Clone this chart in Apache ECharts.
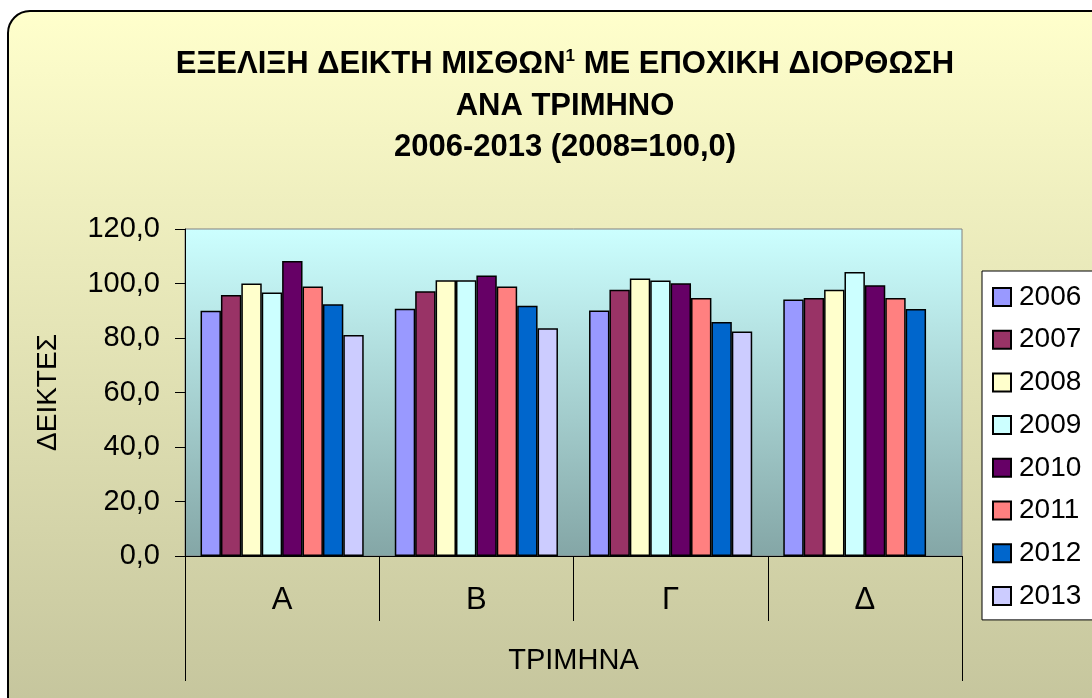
<!DOCTYPE html>
<html>
<head>
<meta charset="utf-8">
<script src="https://cdn.jsdelivr.net/npm/echarts@6/dist/echarts.min.js"></script>
<style>html,body{margin:0;padding:0;background:#fff;}#c{width:1092px;height:698px;}</style>
</head>
<body>
<div id="c"></div>
<script>
var quarters = ['Α', 'Β', 'Γ', 'Δ'];
var years = ['2006', '2007', '2008', '2009', '2010', '2011', '2012', '2013'];
var v2006 = [90.0, 90.7, 90.1, 94.1];
var v2007 = [95.8, 97.2, 97.7, 94.7];
var v2008 = [100.0, 101.2, 101.8, 97.7];
var v2009 = [96.7, 101.2, 101.1, 104.2];
var v2010 = [108.3, 102.9, 100.1, 99.4];
var v2011 = [98.9, 98.9, 94.7, 94.7];
var v2012 = [92.4, 91.8, 85.9, 90.6];
var v2013 = [81.1, 83.6, 82.4, null];
var yearValues = [v2006, v2007, v2008, v2009, v2010, v2011, v2012, v2013];
var colors = ['#9999FF', '#993366', '#FFFFCC', '#CCFFFF', '#660066', '#FF8080', '#0066CC', '#CCCCFF'];

var FONT = "'Liberation Sans', Arial, sans-serif";
var chart = echarts.init(document.getElementById('c'), null, {renderer: 'canvas'});

var series = years.map(function (y, i) {
  return {
    name: y,
    type: 'bar',
    data: yearValues[i],
    barGap: '0%',
    barCategoryGap: '16%',
    itemStyle: {color: colors[i], borderColor: '#000', borderWidth: 1.5}
  };
});

chart.setOption({
  backgroundColor: '#ffffff',
  animation: false,
  color: colors,
  graphic: [{
    type: 'rect',
    z: -10,
    silent: true,
    shape: {x: 8, y: 11, width: 1110, height: 710, r: 22},
    style: {
      fill: {type: 'linear', x: 0, y: 0, x2: 0, y2: 1, colorStops: [
        {offset: 0, color: '#FFFFCC'}, {offset: 1, color: '#C4C49C'}]},
      stroke: '#000', lineWidth: 2
    }
  }],
  title: {
    left: 560,
    top: 39,
    textAlign: 'center',
    text: '{a|ΕΞΕΛΙΞΗ ΔΕΙΚΤΗ ΜΙΣΘΩΝ}{s|1}{a| ΜΕ ΕΠΟΧΙΚΗ ΔΙΟΡΘΩΣΗ}\n{a|ΑΝΑ ΤΡΙΜΗΝΟ}\n{a|2006-2013 (2008=100,0)}',
    textStyle: {
      fontFamily: FONT, fontWeight: 'bold', fontSize: 31, color: '#000', lineHeight: 41.5,
      rich: {
        a: {fontFamily: FONT, fontWeight: 'bold', fontSize: 31, color: '#000', lineHeight: 41.5},
        s: {fontFamily: FONT, fontWeight: 'bold', fontSize: 17, color: '#000', lineHeight: 41.5, padding: [0, 0, 16, 0]}
      }
    }
  },
  legend: {
    orient: 'vertical',
    left: 982,
    top: 271,
    padding: [12, 40, 10, 10],
    backgroundColor: '#ffffff',
    borderColor: '#000',
    borderWidth: 1,
    borderRadius: 0,
    itemWidth: 18,
    itemHeight: 18,
    itemGap: 14.7,
    icon: 'rect',
    data: years,
    textStyle: {fontFamily: FONT, fontSize: 28, color: '#000', padding: [0, 0, 0, 3]}
  },
  grid: {
    left: 185, right: 130, top: 229, bottom: 142,
    show: true,
    backgroundColor: {type: 'linear', x: 0, y: 0, x2: 0, y2: 1, colorStops: [
      {offset: 0, color: '#CCFFFF'}, {offset: 1, color: '#84A6A6'}]},
    borderColor: '#808080',
    borderWidth: 1
  },
  xAxis: [{
    type: 'category',
    data: quarters,
    axisLine: {show: true, lineStyle: {color: '#000', width: 1}},
    axisTick: {show: true, interval: 0, length: 65, lineStyle: {color: '#000'}},
    axisLabel: {fontFamily: FONT, fontSize: 31, color: '#000', margin: 29, interval: 0},
    splitLine: {show: false}
  }, {
    type: 'category',
    data: [''],
    position: 'bottom',
    axisLine: {show: false},
    axisTick: {show: true, length: 125, lineStyle: {color: '#000'}},
    axisLabel: {show: false},
    name: 'ΤΡΙΜΗΝΑ',
    nameLocation: 'middle',
    nameGap: 90,
    nameTextStyle: {fontFamily: FONT, fontSize: 29, color: '#000'}
  }],
  yAxis: {
    type: 'value',
    min: 0, max: 120, interval: 20,
    name: 'ΔΕΙΚΤΕΣ',
    nameLocation: 'middle',
    nameGap: 123,
    nameRotate: 90,
    nameTextStyle: {fontFamily: FONT, fontSize: 28, color: '#000'},
    axisLine: {show: true, lineStyle: {color: '#000', width: 1}},
    axisTick: {show: true, length: 10, lineStyle: {color: '#000'}},
    axisLabel: {
      fontFamily: FONT, fontSize: 29, color: '#000', margin: 25,
      formatter: function (v) { return v.toFixed(1).replace('.', ','); }
    },
    splitLine: {show: false}
  },
  series: series
});
</script>
</body>
</html>
